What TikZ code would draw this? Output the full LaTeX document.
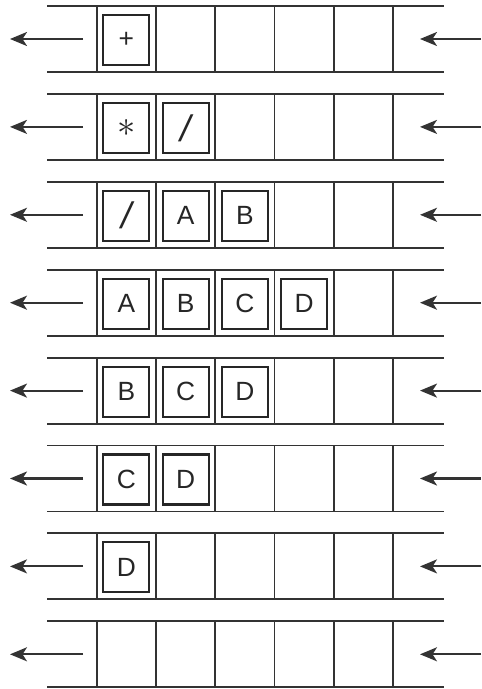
\documentclass[tikz,border=0pt]{standalone}
\usepackage{fontspec}
\setmainfont{Liberation Sans}
\usetikzlibrary{arrows.meta}

\begin{document}
\begin{tikzpicture}[x=0.02cm, y=-0.02cm,
    every path/.style={color=black!80},
    token/.style={rectangle, draw=black!85, line width=1.2pt, fill=white,
        minimum width=0.92cm, minimum height=1cm, inner sep=0pt,
        font=\fontsize{15}{18}\selectfont, text=black!85},
    flow/.style={line width=1.2pt, -{Stealth[length=0.34cm, width=0.28cm, inset=0.09cm]}}]
    \useasboundingbox (0,0) rectangle (481,689);

    % Draw queues
    \foreach \r in {0,...,7} {
        \pgfmathsetmacro{\yt}{6+87.9*\r}
        \pgfmathsetmacro{\yb}{\yt+66}
        \draw[line width=1.1pt] (47,\yt) -- (444,\yt);
        \draw[line width=1.1pt] (47,\yb) -- (444,\yb);
        \foreach \c in {0,...,5}
            \draw[line width=1.1pt] (96.7+59.26*\c,\yt) -- (96.7+59.26*\c,\yb);
        % arrow ends
        \coordinate (out\r) at (83,\yt+33);
        \coordinate (outtip\r) at (10,\yt+33);
        \coordinate (in\r) at (481,\yt+33);
        \coordinate (intip\r) at (420,\yt+33);
    }

    % Draw connections
    \foreach \r in {0,...,7} {
        \draw[flow] (out\r) -- (outtip\r);
        \draw[flow] (in\r) -- (intip\r);
    }

    % Draw tokens
    \node[token] (r1c1) at (126.3,40) {+};

    \node[token] (r2c1) at (126.3,127.9) {\raisebox{-3pt}{\fontsize{20}{20}\selectfont$\ast$}};
    \node[token] (r2c2) at (185.6,127.9) {\fontsize{21}{21}\selectfont\itshape /};

    \node[token] (r3c1) at (126.3,215.8) {\fontsize{21}{21}\selectfont\itshape /};
    \node[token] (r3c2) at (185.6,215.8) {A};
    \node[token] (r3c3) at (244.8,215.8) {B};

    \node[token] (r4c1) at (126.3,303.7) {A};
    \node[token] (r4c2) at (185.6,303.7) {B};
    \node[token] (r4c3) at (244.8,303.7) {C};
    \node[token] (r4c4) at (304.1,303.7) {D};

    \node[token] (r5c1) at (126.3,391.6) {B};
    \node[token] (r5c2) at (185.6,391.6) {C};
    \node[token] (r5c3) at (244.8,391.6) {D};

    \node[token] (r6c1) at (126.3,479.5) {C};
    \node[token] (r6c2) at (185.6,479.5) {D};

    \node[token] (r7c1) at (126.3,567.4) {D};
\end{tikzpicture}
\end{document}
